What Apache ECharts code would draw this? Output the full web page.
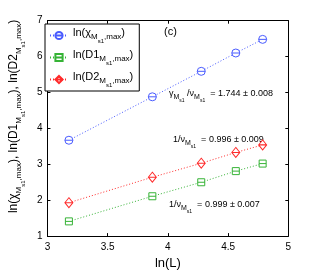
<!DOCTYPE html>
<html><head><meta charset="utf-8">
<script src="https://cdn.jsdelivr.net/npm/echarts@6/dist/echarts.min.js"></script>
<style>html,body{margin:0;padding:0;background:#fff}#c{width:319px;height:275px}</style>
</head><body><div id="c"></div>
<script>
const lnL = [3.178, 3.871, 4.277, 4.564, 4.787];
const chiMax = [3.67, 4.88, 5.59, 6.10, 6.48];
const d1Max = [1.41, 2.11, 2.50, 2.81, 3.02];
const d2Max = [1.93, 2.64, 3.03, 3.33, 3.54];
const seriesNames = ['chi', 'D1', 'D2'];
const legendTexts = {
  chi: '{t|ln(χ}{m|M}{s|s1}{m|,max}{t|)}',
  D1: '{t|ln(D1}{m|M}{s|s1}{m|,max}{t|)}',
  D2: '{t|ln(D2}{m|M}{s|s1}{m|,max}{t|)}'
};
const xTicks = [3, 3.5, 4, 4.5, 5];
const yTicks = [1, 2, 3, 4, 5, 6, 7];
const colors = { chi: '#4a5cff', D1: '#36b336', D2: '#ff2b2b' };
const FF = 'Liberation Sans, Arial, sans-serif';

function rich(main, sub, subsub, pm, pmm) {
  return {
    t: { fontSize: main, fontFamily: FF, color: '#000', verticalAlign: 'bottom', padding: [0, 0, pm, 0] },
    m: { fontSize: sub, fontFamily: FF, color: '#000', verticalAlign: 'bottom', padding: [0, 0, pmm, 0] },
    s: { fontSize: subsub, fontFamily: FF, color: '#000', verticalAlign: 'bottom', padding: [0, 0, 0, 0] }
  };
}
function grich(main, sub, subsub, pm, pmm) {
  return {
    t: { fontSize: main, fontFamily: FF, fill: '#000', verticalAlign: 'bottom', padding: [0, 0, pm, 0] },
    m: { fontSize: sub, fontFamily: FF, fill: '#000', verticalAlign: 'bottom', padding: [0, 0, pmm, 0] },
    s: { fontSize: subsub, fontFamily: FF, fill: '#000', verticalAlign: 'bottom', padding: [0, 0, 0, 0] }
  };
}

const symCircle = 'path://M10,5A5,5,0,1,1,0,5A5,5,0,1,1,10,5ZM0,5L10,5';
const symSquare = 'path://M0,0L10,0L10,10L0,10ZM0,5L10,5';
const symDiamond = 'path://M5,0L10,6L5,12L0,6ZM0,6L10,6';

function mkSeries(name, vals, sym, size) {
  return {
    name: name, type: 'line', data: lnL.map((x, i) => [x, vals[i]]),
    symbol: sym, symbolSize: size, showSymbol: true,
    lineStyle: { color: colors[name], width: 1, type: [1, 2] },
    itemStyle: { color: '#fff', borderColor: colors[name], borderWidth: 1 },
    emphasis: { disabled: true }, animation: false
  };
}

const axisCommon = {
  type: 'value', axisLine: { show: true, onZero: false, lineStyle: { color: '#000', width: 1 } },
  axisTick: { show: true, inside: true, length: 3, lineStyle: { color: '#000' } },
  splitLine: { show: false }
};

const chart = echarts.init(document.getElementById('c'), null, { renderer: 'canvas' });
chart.setOption({
  backgroundColor: '#fff',
  animation: false,
  grid: { left: 41.7, right: 30.7, top: 20.7, bottom: 31.7 },
  xAxis: [
    Object.assign({}, axisCommon, {
      min: xTicks[0], max: xTicks[xTicks.length - 1], interval: 0.5, position: 'bottom',
      axisLabel: { color: '#000', fontSize: 10, fontFamily: FF, margin: 6 },
      name: 'ln(L)', nameLocation: 'middle', nameGap: 17,
      nameTextStyle: { color: '#000', fontSize: 13, fontFamily: FF }
    }),
    Object.assign({}, axisCommon, {
      min: xTicks[0], max: xTicks[xTicks.length - 1], interval: 0.5, position: 'top',
      axisLabel: { show: false }
    })
  ],
  yAxis: [
    Object.assign({}, axisCommon, {
      min: yTicks[0], max: yTicks[yTicks.length - 1], interval: 1, position: 'left',
      axisLabel: { color: '#000', fontSize: 10, fontFamily: FF, margin: 5 },
      name: '{t|ln(χ}{m|M}{s|s1}{m|,max}{t|), ln(D1}{m|M}{s|s1}{m|,max}{t|), ln(D2}{m|M}{s|s1}{m|,max}{t|)}',
      nameLocation: 'middle', nameRotate: 90, nameGap: 13,
      nameTextStyle: { rich: rich(12, 8, 6, 6, 3), padding: [0, 0, 0, 24] }
    }),
    Object.assign({}, axisCommon, {
      min: yTicks[0], max: yTicks[yTicks.length - 1], interval: 1, position: 'right',
      axisLabel: { show: false }
    })
  ],
  legend: {
    orient: 'vertical', left: 45, top: 24, data: seriesNames,
    backgroundColor: '#fff', borderColor: '#000', borderWidth: 1, borderRadius: 0,
    padding: [3, 6, 3, 4], itemGap: 5, itemWidth: 18, itemHeight: 9,
    formatter: n => legendTexts[n],
    textStyle: { rich: rich(11, 8, 6, 6, 3) },
    selectedMode: false
  },
  series: [
    mkSeries('chi', chiMax, symCircle, 8),
    mkSeries('D1', d1Max, symSquare, 7),
    mkSeries('D2', d2Max, symDiamond, [8, 10])
  ],
  graphic: [
    { type: 'text', x: 164, y: 26, style: { text: '(c)', font: '11px ' + FF, fill: '#000' } },
    { type: 'text', x: 169, y: 89, style: { text: '{t|γ}{m|M}{s|s1}{t| /ν}{m|M}{s|s1}{t|  = 1.744 ± 0.008}', rich: grich(9, 7, 5, 5, 2.5) } },
    { type: 'text', x: 173, y: 135, style: { text: '{t|1/ν}{m|M}{s|s1}{t|  = 0.996 ± 0.009}', rich: grich(9, 7, 5, 5, 2.5) } },
    { type: 'text', x: 169, y: 200, style: { text: '{t|1/ν}{m|M}{s|s1}{t|  = 0.999 ± 0.007}', rich: grich(9, 7, 5, 5, 2.5) } }
  ]
});
</script>
</body></html>
